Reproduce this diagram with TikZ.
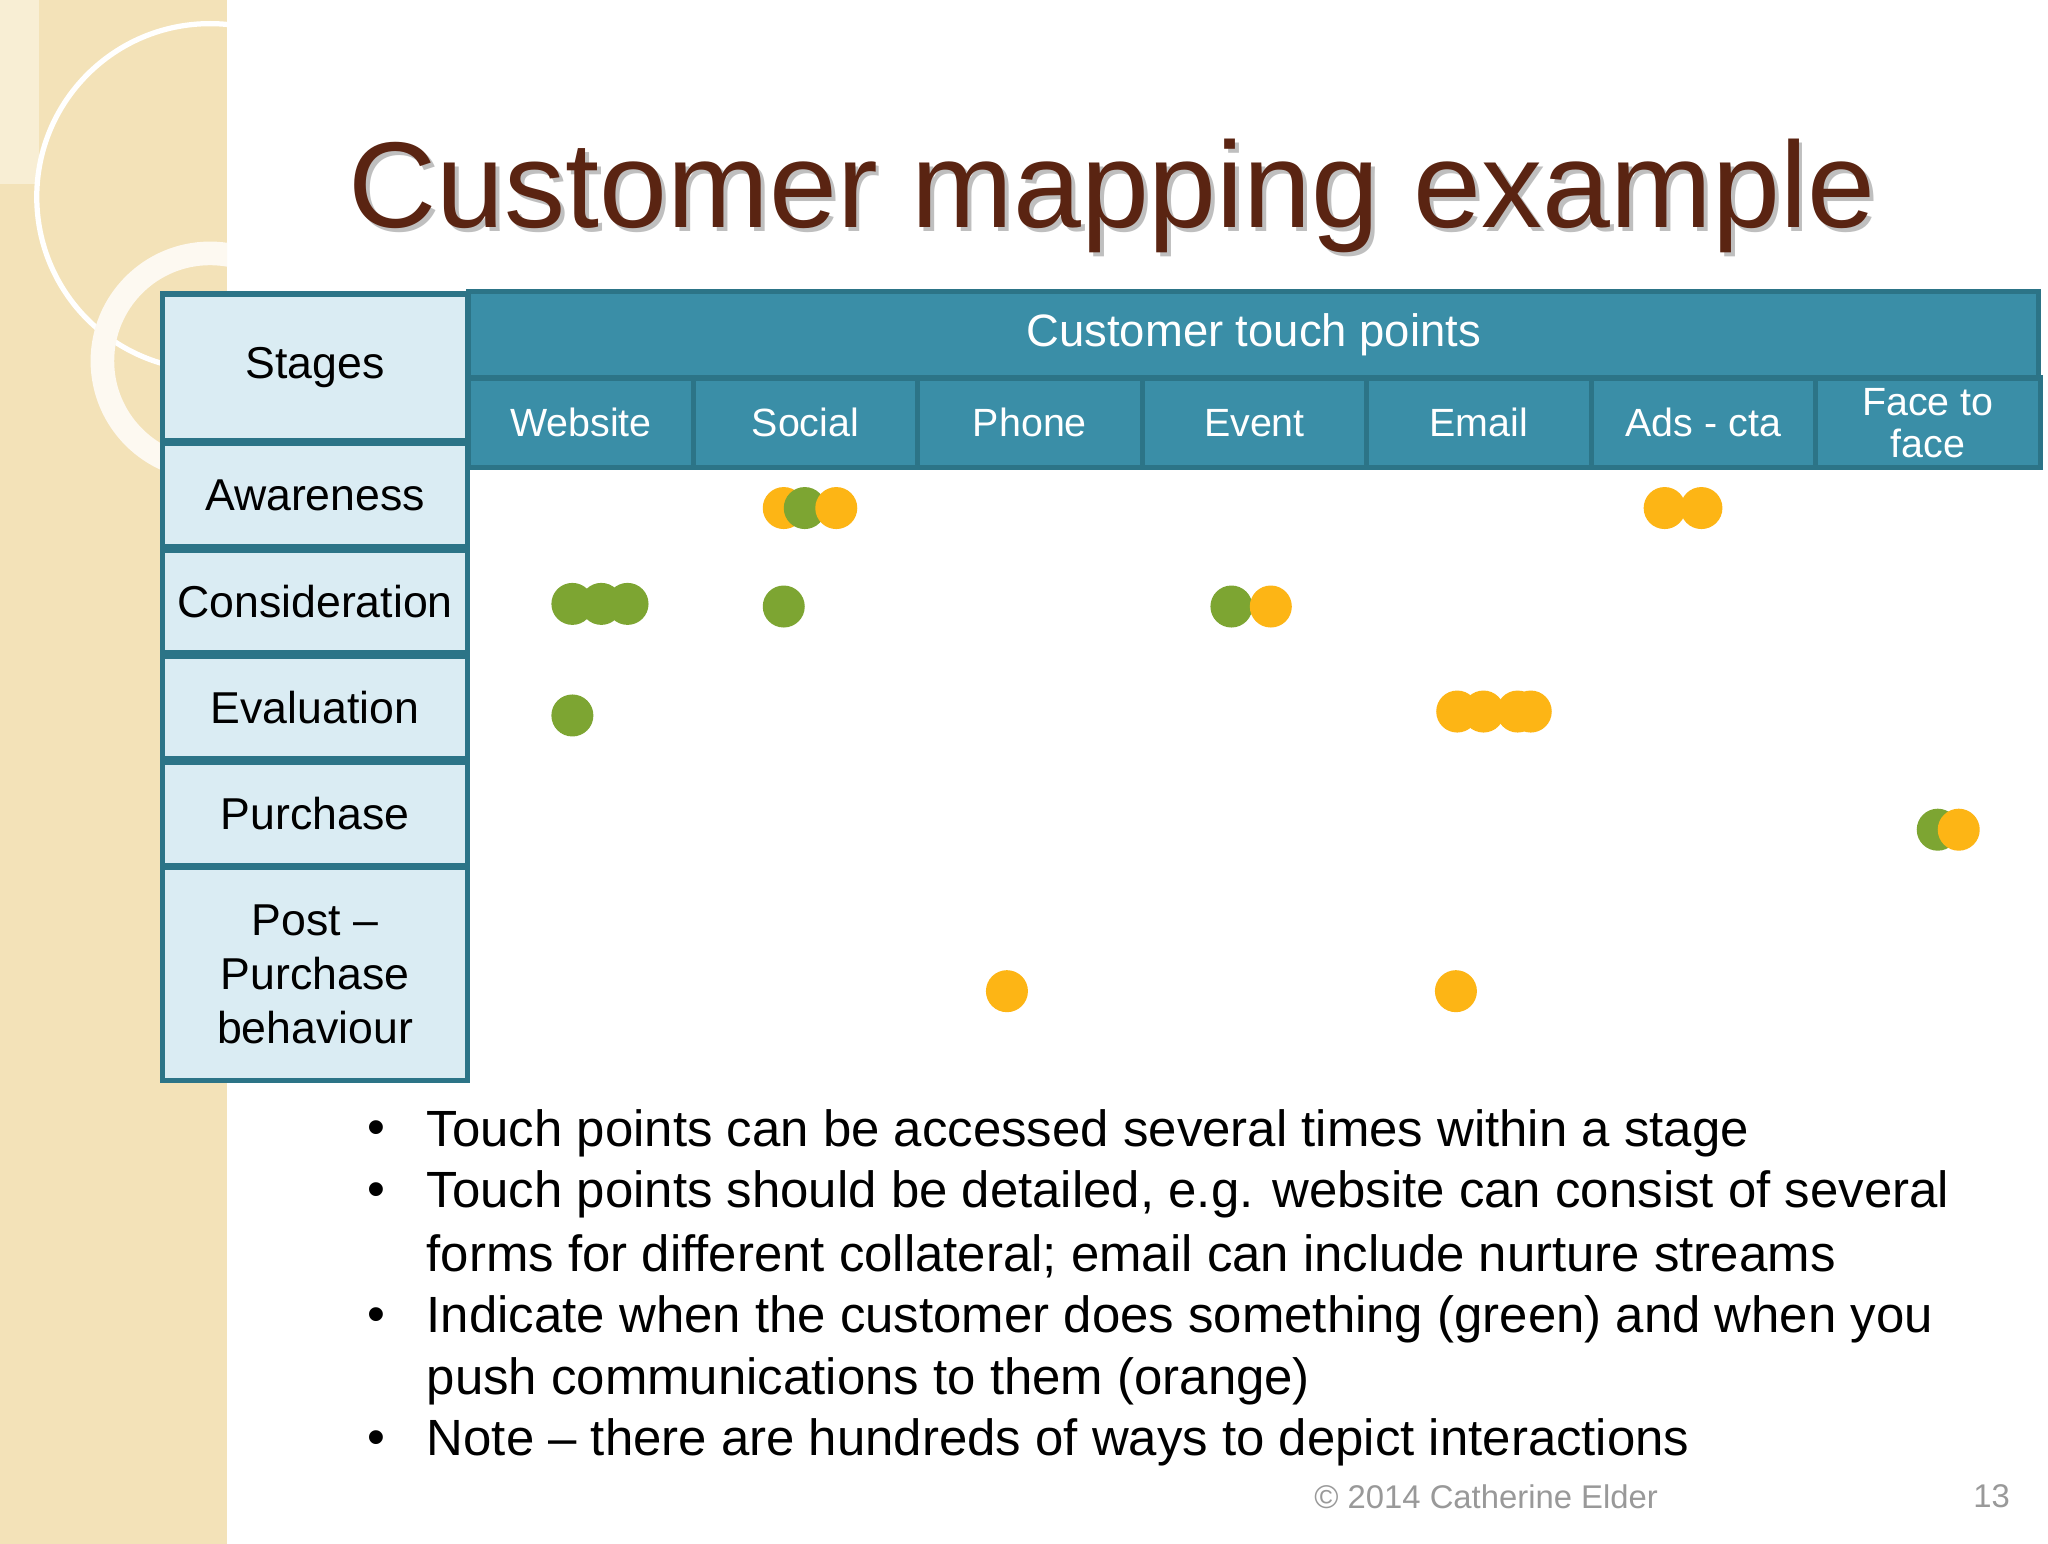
\documentclass[tikz,border=0pt]{standalone}
\usepackage{fontspec}
\setmainfont{Liberation Sans}
\definecolor{beige}{HTML}{F3E2B8}
\definecolor{cellbg}{HTML}{DAECF3}
\definecolor{teal}{HTML}{2C7487}
\definecolor{headbg}{HTML}{3A8EA7}
\definecolor{grn}{HTML}{7DA532}
\definecolor{org}{HTML}{FDB515}
\definecolor{ttl}{HTML}{5A2412}
\tikzset{x=0.5pt,y=-0.5pt,
 stage/.style={draw=teal,line width=2pt,fill=cellbg,font=\fontsize{17}{20.5}\selectfont,align=center},
 head/.style={draw=teal,line width=2pt,fill=headbg,text=white,font=\fontsize{15}{16}\selectfont,align=center},
 gd/.style={circle,fill=grn,minimum size=16pt,inner sep=0pt},
 od/.style={circle,fill=org,minimum size=16pt,inner sep=0pt},
 bul/.style={anchor=west,font=\fontsize{19.4}{23.5}\selectfont}}
\begin{document}
\begin{tikzpicture}
\useasboundingbox (0,0) rectangle (1560,1176);
\fill[white] (0,0) rectangle (1560,1176);
\begin{scope}
\clip (0,0) rectangle (173,1176);
\fill[beige] (0,0) rectangle (173,1176);
\fill[beige!60!white] (0,0) rectangle (30,140);
\draw[white,line width=2pt] (160,150) circle[radius=132];
\draw[white!80!beige,line width=9pt] (160,275) circle[radius=82];
\end{scope}
% stages
\node[stage,minimum width=116pt,minimum height=56pt] (st) at (240,280) {Stages};
\node[stage,minimum width=116pt,minimum height=39pt] (aw) at (240,377) {Awareness};
\node[stage,minimum width=116pt,minimum height=39pt] (co) at (240,458) {Consideration};
\node[stage,minimum width=116pt,minimum height=39pt] (ev) at (240,539) {Evaluation};
\node[stage,minimum width=116pt,minimum height=39pt] (pu) at (240,620) {Purchase};
\node[stage,minimum width=116pt,minimum height=81pt] (po) at (240,742) {Post --\\Purchase\\behaviour};
% header
\node[head,minimum width=598pt,minimum height=33pt,font=\fontsize{17.3}{18}\selectfont] (ct) at (955,255) {Customer touch points};
\foreach \t [count=\i] in {Website,Social,Phone,Event,Email,Ads - cta,{Face to\\face}}{
 \node[head,minimum width=85.5pt,minimum height=34pt] (h\i) at (357+85.5+171*\i-171,322) {\t};}
% dots
\node[od] (a1) at (597,387) {}; \node[gd] (a2) at (613,387) {}; \node[od] (a3) at (637,387) {};
\node[od] (a4) at (1268,387) {}; \node[od] (a5) at (1296,387) {};
\node[gd] (c1) at (436,460) {}; \node[gd] (c2) at (458,460) {}; \node[gd] (c3) at (478,460) {};
\node[gd] (c4) at (597,462) {}; \node[gd] (c5) at (938,462) {}; \node[od] (c6) at (968,462) {};
\node[gd] (e1) at (436,545) {};
\node[od] (e2) at (1110,542) {}; \node[od] (e3) at (1130,542) {}; \node[od] (e4) at (1156,542) {}; \node[od] (e5) at (1166,542) {};
\node[gd] (p1) at (1476,632) {}; \node[od] (p2) at (1492,632) {};
\node[od] (q1) at (767,755) {}; \node[od] (q2) at (1109,755) {};
% title
\node[text=black!25,font=\fontsize{46.5}{50}\selectfont] (tts) at (850,152) {Customer mapping example};
\node[text=ttl,font=\fontsize{46.5}{50}\selectfont] (tt) at (847,149) {Customer mapping example};
% bullets
\foreach \y/\b/\t in {863/•/Touch points can be accessed several times within a stage,
 910/•/{Touch points should be detailed, e.g. website can consist of several},
 957//forms for different collateral; email can include nurture streams,
 1005/•/Indicate when the customer does something (green) and when you,
 1052//push communications to them (orange),
 1099/•/Note -- there are hundreds of ways to depict interactions}{
 \node[bul] at (273,\y) {\b};
 \node[bul] at (318,\y) {\t};}
\node[text=black!40,font=\fontsize{12.5}{14}\selectfont] (ft) at (1132,1140) {© 2014 Catherine Elder};
\node[text=black!40,font=\fontsize{12.5}{14}\selectfont] (pg) at (1517,1140) {13};
\end{tikzpicture}
\end{document}
